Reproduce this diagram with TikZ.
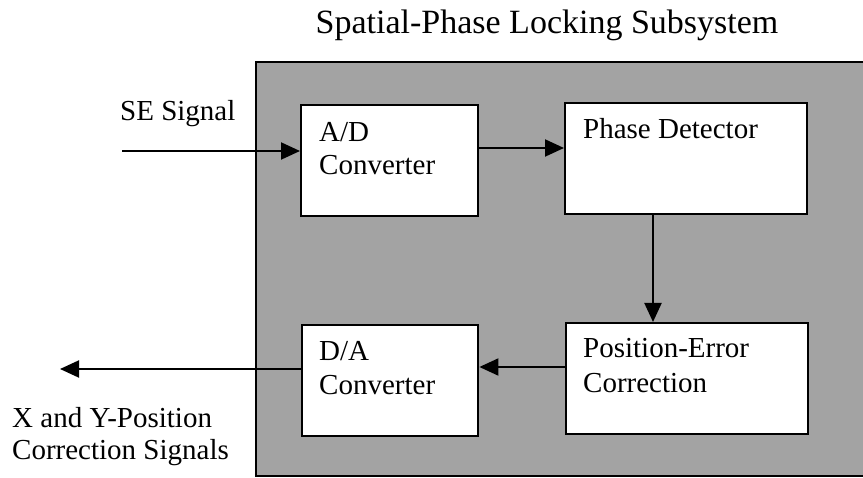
\documentclass[tikz,border=0pt]{standalone}
\usepackage{fontspec}
\setmainfont{Liberation Serif}
\usetikzlibrary{arrows.meta,calc}
\definecolor{panelgray}{RGB}{163,163,163}
\begin{document}
\begin{tikzpicture}[x=1pt,y=-1pt,
  block/.style={draw=black, line width=2.4pt, fill=white, inner sep=0pt, anchor=north west},
  lbl/.style={anchor=base west, inner sep=0pt, align=left, font=\fontsize{29}{34}\selectfont},
  flow/.style={line width=2pt, -{Triangle[length=19pt,width=17pt]}},
]
\useasboundingbox (0,0) rectangle (863,478);
\clip (0,0) rectangle (863,478);

% shaded subsystem panel (runs off the right edge)
\node[draw=black, line width=2pt, fill=panelgray, inner sep=0pt, anchor=north west,
      minimum width=620pt, minimum height=414pt] (panel) at (255,61) {};

\node[anchor=base, inner sep=0pt, font=\fontsize{34}{40}\selectfont] (title) at (547,34)
  {Spatial-Phase Locking Subsystem};

% processing blocks
\node[block, minimum width=177pt, minimum height=111pt] (ad) at (300,104) {};
\node[block, minimum width=242pt, minimum height=111pt] (pd) at (564,102) {};
\node[block, minimum width=242pt, minimum height=111pt] (pe) at (565,322) {};
\node[block, minimum width=176pt, minimum height=111pt] (da) at (301,324) {};

% block captions (base anchor sits on the last line)
\node[lbl, font=\fontsize{29}{33}\selectfont] (adtxt) at (319,175) {A/D\\Converter};
\node[lbl] (pdtxt) at (583,139) {Phase Detector};
\node[lbl, font=\fontsize{29}{35}\selectfont] (petxt) at (583,393) {Position-Error\\Correction};
\node[lbl] (datxt) at (319,395) {D/A\\Converter};

% external signal labels
\node[lbl] (setxt) at (120,121) {SE Signal};
\node[lbl, font=\fontsize{29}{32}\selectfont] (outtxt) at (12,460) {X and Y-Position\\Correction Signals};

% connectors
\coordinate (sein) at (122,151);
\coordinate (r1) at (0,148);
\coordinate (c2) at (653,0);
\coordinate (r3) at (0,367);
\coordinate (sigout) at (60,369);

\draw[flow] (sein) -- (sein -| ad.west);
\draw[flow] (ad.east |- r1) -- (pd.west |- r1);
\draw[flow] (pd.south -| c2) -- (pe.north -| c2);
\draw[flow] (pe.west |- r3) -- (da.east |- r3);
\draw[flow] (da.west |- sigout) -- (sigout);
\end{tikzpicture}
\end{document}
